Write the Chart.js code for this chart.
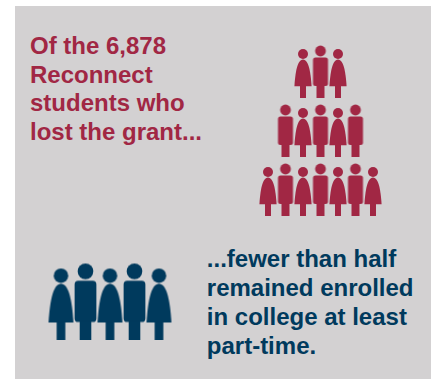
<!DOCTYPE html>
<html>
<head>
<meta charset="utf-8">
<script src="https://cdn.jsdelivr.net/npm/chart.js@4/dist/chart.umd.min.js"></script>
<style>
  html, body { margin: 0; padding: 0; background: #fff; }
  #panel { position: absolute; left: 15px; top: 6px; width: 416px; height: 373px; background: #d3d1d2; }
  canvas { position: absolute; }
  .note { position: absolute; margin: 0; font: bold 24px "Liberation Sans", Arial, sans-serif; white-space: pre; }
  #lost { left: 30px; top: 32.2px; line-height: 28.6px; color: #a12744; }
  #enrolled { left: 206.8px; top: 245.2px; line-height: 28.9px; color: #003a5d; }
</style>
</head>
<body>
<div id="panel"></div>
<p class="note" id="lost">Of the 6,878
Reconnect
students who
lost the grant...</p>
<p class="note" id="enrolled">...fewer than half
remained enrolled
in college at least
part-time.</p>
<canvas id="lostChart" width="175" height="236" style="left:233px;top:11px"></canvas>
<canvas id="enrolledChart" width="196" height="88" style="left:12px;top:255px"></canvas>
<script>
const lostRows = [
  ["w", "m", "w"],
  ["m", "w", "m", "w", "m"],
  ["w", "m", "w", "m", "w", "m", "w"],
];
const enrolledRows = [
  ["w", "m", "w", "m", "w"],
];
const lostColor = "#a12744";
const enrolledColor = "#003a5d";

// one person as a small canvas, feet on the bottom edge
function person(kind, color, s) {
  const w = Math.round(20 * s), h = Math.round(56 * s);
  const c = document.createElement("canvas");
  c.width = w;
  c.height = h;
  const g = c.getContext("2d");
  g.fillStyle = color;
  g.translate(w / 2, h);
  g.scale(s, s);
  if (kind === "m") {
    g.beginPath();
    g.arc(0, -47, 5.4, 0, Math.PI * 2);
    g.fill();
    g.beginPath();
    g.roundRect(-7.5, -40.5, 15, 28.5, 2.5);
    g.fill();
    g.fillRect(-4, -13, 8, 13);
  } else {
    g.beginPath();
    g.arc(0, -44, 5, 0, Math.PI * 2);
    g.fill();
    g.beginPath();
    g.moveTo(0, -38.5);
    g.bezierCurveTo(6, -38.5, 7.8, -24, 8.6, -11.7);
    g.lineTo(-8.6, -11.7);
    g.bezierCurveTo(-7.8, -24, -6, -38.5, 0, -38.5);
    g.fill();
    g.fillRect(-3, -12, 6, 12);
  }
  return c;
}

function drawRows(id, rows, color, s, seatWidth) {
  const canvas = document.getElementById(id);
  const points = [];
  const styles = [];
  rows.forEach((row, r) => {
    row.forEach((kind, i) => {
      points.push({ x: i - (row.length - 1) / 2, y: r });
      styles.push(person(kind, color, s));
    });
  });
  const halfSeats = canvas.width / seatWidth / 2;
  return new Chart(canvas, {
    type: "scatter",
    data: {
      datasets: [{
        data: points,
        pointStyle: styles,
        pointRadius: 10,
        borderWidth: 0,
        backgroundColor: color,
      }],
    },
    options: {
      responsive: false,
      animation: false,
      events: [],
      layout: { padding: 0, autoPadding: false },
      plugins: { legend: { display: false }, tooltip: { enabled: false } },
      scales: {
        x: { type: "linear", display: false, min: -halfSeats, max: halfSeats },
        y: { type: "linear", display: false, reverse: true, min: -1, max: rows.length },
      },
    },
  });
}

drawRows("lostChart", lostRows, lostColor, 1, 17.5);
drawRows("enrolledChart", enrolledRows, enrolledColor, 1.45, 24.5);
</script>
</body>
</html>
